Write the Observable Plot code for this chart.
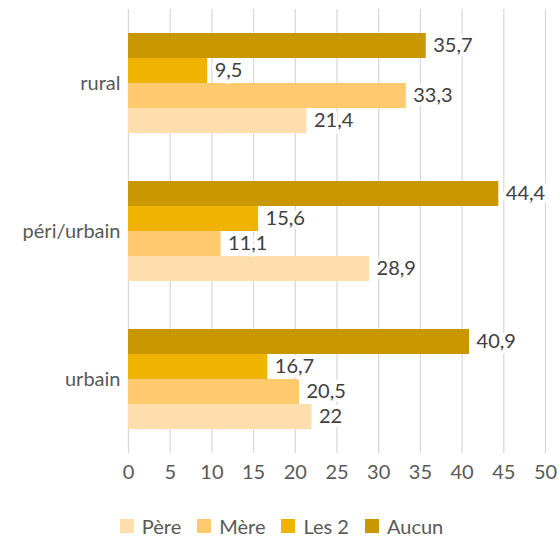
<!DOCTYPE html>
<html><head><meta charset="utf-8">
<script src="https://cdn.jsdelivr.net/npm/d3@7"></script>
<script src="https://cdn.jsdelivr.net/npm/@observablehq/plot@0.6"></script>
<style>
html,body{margin:0;background:#fff;font-family:Lato, sans-serif;overflow:hidden;}
#chart svg{display:block;}
#legend{display:flex;justify-content:center;align-items:center;margin-top:10px;padding-left:4px;font-size:20px;line-height:22px;color:#595959;height:22px;}
#legend .item{display:flex;align-items:center;margin:0 8px;}
#legend .sw{width:14px;height:14px;margin-right:8px;}
</style>
</head><body><div id="chart"></div>
<script>
const categories = ["rural", "péri/urbain", "urbain"];
const series = ["Père", "Mère", "Les 2", "Aucun"];
const pere = [21.4, 28.9, 22];
const mere = [33.3, 11.1, 20.5];
const les2 = [9.5, 15.6, 16.7];
const aucun = [35.7, 44.4, 40.9];
const colors = ["#FFDEAD", "#FFC96E", "#F0B400", "#C99700"];
const xTicks = [0, 5, 10, 15, 20, 25, 30, 35, 40, 45, 50];

const values = [pere, mere, les2, aucun];
const data = [];
categories.forEach((c, i) => series.forEach((s, j) => data.push({category: c, series: s, value: values[j][i]})));
const fmt = v => String(v).replace(".", ",");

const plot = Plot.plot({
  width: 559, height: 505,
  marginTop: 9, marginLeft: 128, marginRight: 14, marginBottom: 52,
  style: {fontFamily: "Lato, sans-serif", fontSize: "20px", color: "#595959", background: "white"},
  x: {domain: [0, 50], ticks: xTicks, tickSize: 0, tickPadding: 11, label: null, tickFormat: d => String(d)},
  fy: {domain: categories, padding: 0, label: null, tickSize: 0, tickPadding: 8, axis: "left"},
  y: {domain: [...series].reverse(), axis: null, paddingInner: 0, paddingOuter: 0.875},
  color: {domain: series, range: colors},
  marks: [
    Plot.ruleX(xTicks, {stroke: "#d9d9d9", strokeWidth: 1.3}),
    Plot.barX(data, {fy: "category", y: "series", x: "value", fill: "series"}),
    Plot.text(data, {fy: "category", y: "series", x: "value", text: d => fmt(d.value), textAnchor: "start", dx: 7, fill: "#404040", stroke: "white", strokeWidth: 8, paintOrder: "stroke", fontSize: 20})
  ]
});
document.getElementById("chart").appendChild(plot);

const legend = document.createElement("div");
legend.id = "legend";
series.forEach((s, i) => {
  const item = document.createElement("div");
  item.className = "item";
  const sw = document.createElement("div");
  sw.className = "sw";
  sw.style.background = colors[i];
  const lab = document.createElement("span");
  lab.textContent = s;
  item.appendChild(sw); item.appendChild(lab);
  legend.appendChild(item);
});
document.getElementById("chart").appendChild(legend);
</script>
</body></html>
